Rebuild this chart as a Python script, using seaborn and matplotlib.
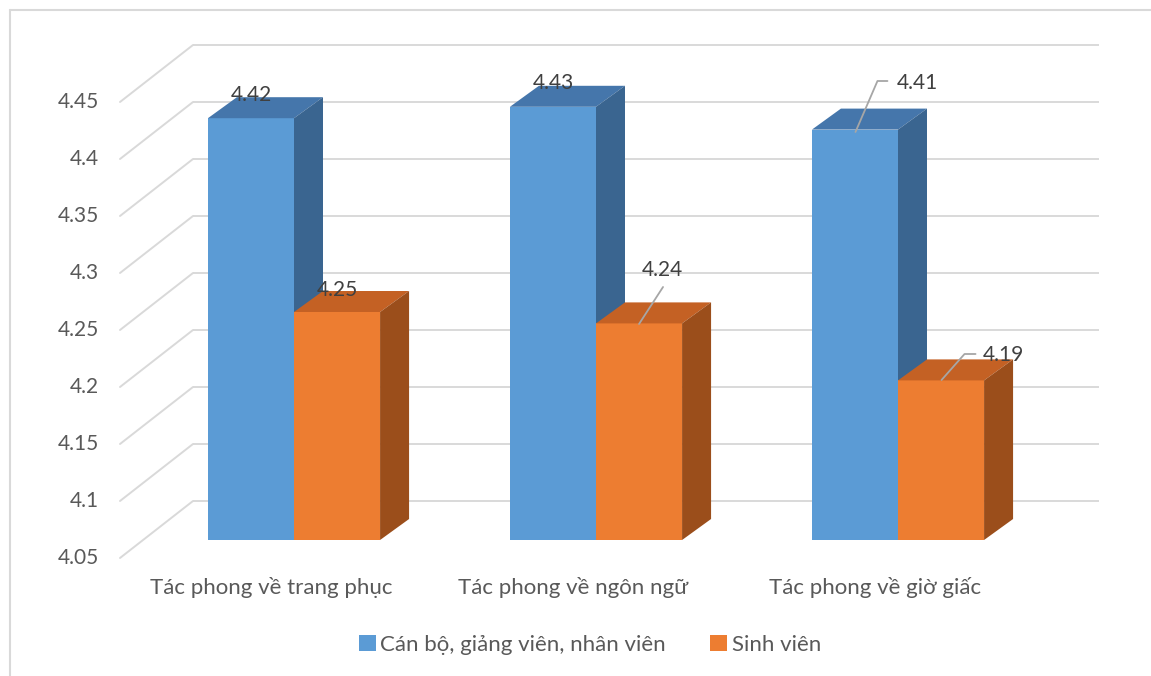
import numpy as np
import pandas as pd
import matplotlib
matplotlib.use("Agg")
import matplotlib.pyplot as plt
import seaborn as sns
from matplotlib.patches import Polygon, Rectangle
from matplotlib.lines import Line2D

# ---------------- data ----------------
categories = ["Tác phong về trang phục", "Tác phong về ngôn ngữ", "Tác phong về giờ giấc"]
series_names = ["Cán bộ, giảng viên, nhân viên", "Sinh viên"]
staff_values = [4.42, 4.43, 4.41]
student_values = [4.25, 4.24, 4.19]
y_ticks = [4.05, 4.10, 4.15, 4.20, 4.25, 4.30, 4.35, 4.40, 4.45]
y_tick_labels = ["4.05", "4.1", "4.15", "4.2", "4.25", "4.3", "4.35", "4.4", "4.45"]
axis_base = 4.05

# ---------------- style ----------------
front_colors = ["#5B9BD5", "#ED7D31"]
top_colors = ["#4576AB", "#C46124"]
side_colors = ["#3A6590", "#9B4E1B"]
text_color = "#595959"
label_color = "#404040"
grid_color = "#D9D9D9"

sns.set_theme(style="white")
plt.rcParams['font.family'] = ['Lato', 'DejaVu Sans']

df = pd.DataFrame({
    "category": categories * 2,
    "series": [series_names[0]] * len(categories) + [series_names[1]] * len(categories),
    "value": staff_values + student_values,
})

W, H = 1151, 676
fig = plt.figure(figsize=(W / 100, H / 100), dpi=100)
ax = fig.add_axes([0, 0, 1, 1])

sns.barplot(data=df, x="category", y="value", hue="series", order=categories,
            hue_order=series_names, palette=front_colors, saturation=1,
            width=0.57, linewidth=0, errorbar=None, legend=False, ax=ax)

# pixel layout of the oblique projection
X0_PX, PX_PER_X = 294.0, 302.0       # category 0 centre, px per category
BASE_PX, PX_PER_Y = 540.0, 1140.0    # bar-front floor, px per value unit
ax.set_xlim(-X0_PX / PX_PER_X, (W - X0_PX) / PX_PER_X)
ax.set_ylim(axis_base - (H - BASE_PX) / PX_PER_Y, axis_base + BASE_PX / PX_PER_Y)
ax.set_axis_off()

ux = 1.0 / PX_PER_X
uy = 1.0 / PX_PER_Y

# depth offsets (pixels, x right / y up)
bar_d = (29 * ux, 21 * uy)
back_d = (50 * ux, 39 * uy)
front_d = (-23 * ux, -18 * uy)
n = len(categories)
xl, xr = -0.5, n - 0.5

# back wall gridlines and side-wall diagonals
for v in y_ticks:
    ax.plot([xl + back_d[0], xr + back_d[0]], [v + back_d[1]] * 2,
            color=grid_color, lw=1.4, zorder=1, solid_capstyle='butt')
    ax.plot([xl + front_d[0], xl + back_d[0]], [v + front_d[1], v + back_d[1]],
            color=grid_color, lw=1.4, zorder=1)
for v, lab in zip(y_ticks, y_tick_labels):
    ax.text(xl + front_d[0] - 21 * ux, v + front_d[1], lab, ha='right', va='center',
            fontsize=15, color=text_color)

# category labels
for i, c in enumerate(categories):
    ax.text(i + front_d[0], axis_base + front_d[1] - 30 * uy, c, ha='center',
            va='center', fontsize=16, color=text_color)

# 3D faces
bar_tops = []
for si, container in enumerate(ax.containers):
    for bi, bar in enumerate(container):
        x0 = bar.get_x()
        w = bar.get_width()
        top = bar.get_y() + bar.get_height()
        bar.set_y(axis_base)
        bar.set_height(top - axis_base)
        z = 3 + x0
        bar.set_zorder(z)
        x1 = x0 + w
        dx, dy = bar_d
        ax.add_patch(Polygon([(x0, top), (x1, top), (x1 + dx, top + dy), (x0 + dx, top + dy)],
                             closed=True, facecolor=top_colors[si], edgecolor='none', zorder=z))
        ax.add_patch(Polygon([(x1, axis_base), (x1, top), (x1 + dx, top + dy), (x1 + dx, axis_base + dy)],
                             closed=True, facecolor=side_colors[si], edgecolor='none', zorder=z))
        bar_tops.append((si, bi, x0 + w / 2, top))

# data labels (offsets in px from bar top-centre) and leader lines
label_layout = {
    (0, 0): dict(off=(0, 23), ha='center', leader=None),
    (0, 1): dict(off=(0, 24), ha='center', leader=None),
    (0, 2): dict(off=(41.5, 47), ha='left', leader=[(0.5, -2.4), (22.5, 48.6), (32.5, 48.6)]),
    (1, 0): dict(off=(0, 22), ha='center', leader=None),
    (1, 1): dict(off=(23, 53.4), ha='center', leader=[(0, -0.6), (24, 36.4)]),
    (1, 2): dict(off=(41.5, 25.4), ha='left', leader=[(0.5, 0.4), (23.5, 26.4), (34.5, 26.4)]),
}
values_by_series = [staff_values, student_values]
for si, bi, cx, top in bar_tops:
    lay = label_layout[(si, bi)]
    if lay['leader']:
        xs = [cx + p[0] * ux for p in lay['leader']]
        ys = [top + p[1] * uy for p in lay['leader']]
        ax.plot(xs, ys, color='#A6A6A6', lw=1.3, zorder=20)
    ax.text(cx + lay['off'][0] * ux, top + lay['off'][1] * uy,
            f"{values_by_series[si][bi]:.2f}", ha=lay['ha'], va='center',
            fontsize=15, color=label_color, zorder=21)

# legend
handles = [Rectangle((0, 0), 1, 1, facecolor=c, edgecolor='none') for c in front_colors]
fig.legend(handles, series_names, loc='center', bbox_to_anchor=(590 / W, 1 - 645 / H),
           ncol=2, frameon=False, handlelength=0.75, handleheight=0.75, handletextpad=0.2,
           columnspacing=2.0, fontsize=16, labelcolor=text_color)

# chart border (left and top visible)
fig.add_artist(Line2D([10 / W, 10 / W], [0, 1 - 10 / H], color=grid_color, lw=1.5))
fig.add_artist(Line2D([10 / W, 1], [1 - 10 / H, 1 - 10 / H], color=grid_color, lw=1.5))

fig.savefig("out.png", dpi=100, facecolor='white')
